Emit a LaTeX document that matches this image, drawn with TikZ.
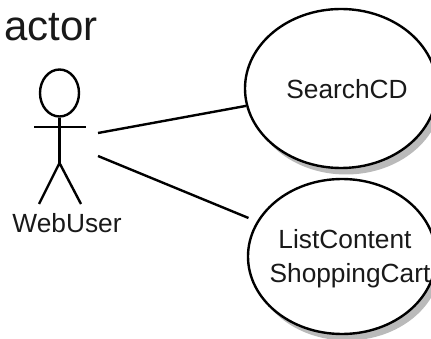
\documentclass[tikz,border=0pt]{standalone}
\usepackage{fontspec}
\setmainfont{Liberation Sans}
\usetikzlibrary{shapes.geometric}
\definecolor{ink}{gray}{0.1}
\tikzset{
  x=1pt,y=-1pt,
  inkline/.style={draw=black,line width=2.4pt},
  usecase/.style={ellipse,draw=black,line width=2.4pt,fill=white,inner sep=0pt},
  shadowcase/.style={ellipse,fill=black!27,draw=none,inner sep=0pt},
  lbl/.style={inner sep=0pt,anchor=base,text=ink,font=\fontsize{26.3}{30}\selectfont}
}
\begin{document}
\begin{tikzpicture}
\useasboundingbox (0,0) rectangle (431,339);
\clip (0,0) rectangle (431,339);
\node[lbl,anchor=base west,font=\fontsize{42}{46}\selectfont] (title) at (4,41) {actor};
% actor
\node[ellipse,inkline,inner sep=0pt,minimum width=39pt,minimum height=47pt] (head) at (59.5,93) {};
\coordinate (hip) at (59.5,163);
\coordinate (armL) at (34,127);
\coordinate (armR) at (86,127);
\coordinate (footL) at (39,204);
\coordinate (footR) at (81,204);
\draw[inkline] (head.south) -- (hip);
\draw[inkline] (armL) -- (armR);
\draw[inkline] (footL) -- (hip) -- (footR);
\node[lbl] (web) at (67,233) {WebUser};
% use cases
\node[shadowcase,minimum width=192pt,minimum height=159pt] (shadowA) at (346,95) {};
\node[usecase,minimum width=192pt,minimum height=159pt] (searchcd) at (341,88.5) {};
\node[shadowcase,minimum width=188pt,minimum height=155pt] (shadowB) at (347,263) {};
\node[usecase,minimum width=188pt,minimum height=155pt] (listcart) at (342,256.5) {};
\node[lbl] (t1) at (347,99) {SearchCD};
\node[lbl] (t2) at (345,248) {ListContent};
\node[lbl] (t3) at (350,282) {ShoppingCart};
% connectors
\coordinate (c1) at (98,133);
\coordinate (c2) at (98,156);
\draw[inkline] (c1) -- (searchcd);
\draw[inkline,shorten >=9pt] (c2) -- (listcart);
\end{tikzpicture}
\end{document}
